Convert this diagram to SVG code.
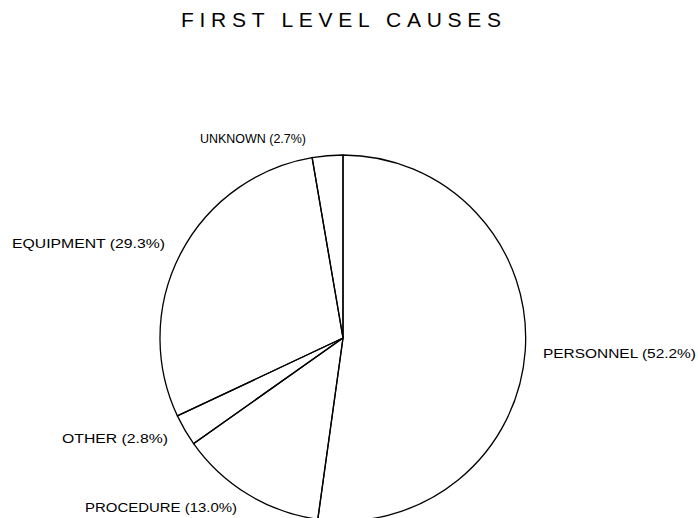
<svg xmlns="http://www.w3.org/2000/svg" width="698" height="518" viewBox="0 0 698 518">
<style>
.t{font-family:"Liberation Sans",Arial,sans-serif;fill:#000}
.lbl{font-size:12px}
.title{font-size:21px}
.sl{fill:none;stroke:#000;stroke-width:1.3}
</style>
<rect width="698" height="518" fill="#fff"/>
<text class="t title" x="181" y="27" textLength="320" lengthAdjust="spacing">FIRST LEVEL CAUSES</text>
<g id="pie">
<g id="personnel"><path class="sl" d="M343,338 L343,155 A183,183 0 1 1 317.8,519.3 Z"/></g>
<g id="procedure"><path class="sl" d="M343,338 L317.8,519.3 A183,183 0 0 1 193.6,443.6 Z"/></g>
<g id="other"><path class="sl" d="M343,338 L193.6,443.6 A183,183 0 0 1 177.4,415.9 Z"/></g>
<g id="equipment"><path class="sl" d="M343,338 L177.4,415.9 A183,183 0 0 1 312.1,157.6 Z"/></g>
<g id="unknown"><path class="sl" d="M343,338 L312.1,157.6 A183,183 0 0 1 343,155 Z"/></g>
</g>
<g id="labels">
<text class="t lbl" x="200" y="143" textLength="106" lengthAdjust="spacingAndGlyphs">UNKNOWN (2.7%)</text>
<text class="t lbl" x="12" y="248" textLength="153" lengthAdjust="spacingAndGlyphs">EQUIPMENT (29.3%)</text>
<text class="t lbl" x="543" y="358" textLength="153" lengthAdjust="spacingAndGlyphs">PERSONNEL (52.2%)</text>
<text class="t lbl" x="62" y="443" textLength="106" lengthAdjust="spacingAndGlyphs">OTHER (2.8%)</text>
<text class="t lbl" x="85" y="512" textLength="152" lengthAdjust="spacingAndGlyphs">PROCEDURE (13.0%)</text>
</g>
</svg>
